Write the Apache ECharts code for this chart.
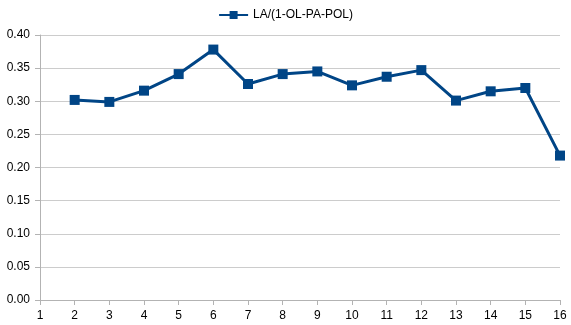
<!DOCTYPE html>
<html>
<head>
<meta charset="utf-8">
<script src="https://cdn.jsdelivr.net/npm/echarts@6/dist/echarts.min.js"></script>
<style>html,body{margin:0;padding:0;background:#fff}#c{width:571px;height:325px}</style>
</head>
<body>
<div id="c"></div>
<script>
const seriesName = 'LA/(1-OL-PA-POL)';
const xValues = [2, 3, 4, 5, 6, 7, 8, 9, 10, 11, 12, 13, 14, 15, 16];
const yValues = [0.302, 0.299, 0.316, 0.341, 0.378, 0.326, 0.341, 0.345, 0.324, 0.337, 0.347, 0.301, 0.315, 0.320, 0.218];

const chart = echarts.init(document.getElementById('c'), null, {renderer: 'canvas'});
chart.setOption({
  animation: false,
  backgroundColor: '#fff',
  textStyle: {fontFamily: 'Liberation Sans'},
  legend: {
    top: 4,
    left: 'center',
    itemWidth: 29,
    itemHeight: 10,
    itemGap: 4,
    textStyle: {fontSize: 12, color: '#000', fontFamily: 'Liberation Sans'},
    data: [seriesName]
  },
  grid: {left: 40, right: 11, top: 35, bottom: 25, containLabel: false},
  xAxis: {
    type: 'value',
    min: 1, max: 16, interval: 1,
    axisLine: {show: true, lineStyle: {color: '#b3b3b3', width: 1}},
    axisTick: {show: true, length: 5, lineStyle: {color: '#b3b3b3'}},
    axisLabel: {fontSize: 12, color: '#000', margin: 10, fontFamily: 'Liberation Sans'},
    splitLine: {show: false}
  },
  yAxis: {
    type: 'value',
    min: 0, max: 0.4, interval: 0.05,
    axisLine: {show: true, lineStyle: {color: '#b3b3b3', width: 1}},
    axisTick: {show: true, length: 5, lineStyle: {color: '#b3b3b3'}},
    axisLabel: {fontSize: 12, color: '#000', margin: 10, fontFamily: 'Liberation Sans',
      formatter: v => v.toFixed(2)},
    splitLine: {show: true, lineStyle: {color: '#cccccc', width: 1}}
  },
  series: [{
    name: seriesName,
    type: 'line',
    data: xValues.map((x, i) => [x, yValues[i]]),
    symbol: 'rect',
    symbolSize: 10,
    itemStyle: {color: '#004586'},
    lineStyle: {color: '#004586', width: 3},
    emphasis: {disabled: true}
  }]
});
</script>
</body>
</html>
